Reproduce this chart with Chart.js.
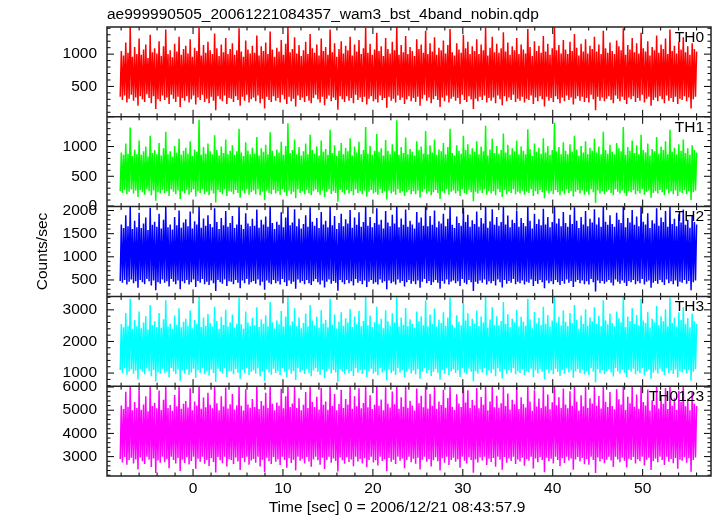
<!doctype html>
<html lang="en">
<head>
<meta charset="utf-8" />
<title>WAM light curve</title>
<style>
  body { margin: 0; background: #fff; }
  #wrap { width: 717px; height: 516px; }
</style>
</head>
<body>
<div id="wrap"><canvas id="lc" width="717" height="516"></canvas></div>
<script src="https://cdn.jsdelivr.net/npm/chart.js@4.4.1/dist/chart.umd.min.js"></script>
<script>
const plotTitle = "ae999990505_20061221084357_wam3_bst_4band_nobin.qdp";
const xTitle = "Time [sec] 0 = 2006/12/21 08:43:57.9";
const yTitle = "Counts/sec";
const bandNames = ["TH0", "TH1", "TH2", "TH3", "TH0123"];

// first and last bin time (s)
const tStart = -8.1;
const tEnd = 56.0;
const xTicks = [0, 10, 20, 30, 40, 50];

// count rates (alternating local lows / highs of the dense trace)
const th0 = [
  340,1050,290,980,360,1180,250,1020,310,1420,370,960,280,1110,330,1000,200,1240,350,990,
  300,1070,260,1150,380,940,320,1300,240,1030,350,1090,150,1010,300,1200,270,970,360,1120,
  290,1380,330,1000,230,1060,370,950,310,1160,260,1040,340,1270,180,990,320,1080,280,1130,
  350,1010,250,1230,300,960,360,1100,220,1050,330,1410,290,980,370,1140,260,1020,310,1190,
  240,1060,340,1000,280,1320,130,1090,350,970,300,1150,270,1030,360,1250,230,1000,320,1080,
  310,1170,260,990,350,1060,290,1400,200,1040,340,960,280,1210,370,1070,250,1010,300,1130,
  330,1020,270,1290,360,980,240,1120,310,1050,160,1180,340,1000,290,1350,260,1070,350,960,
  280,1100,320,1040,250,1220,370,990,300,1160,230,1420,340,1030,270,1080,310,1260,190,1010,
  360,1140,290,970,330,1060,260,1190,350,1000,280,1310,240,1090,320,1020,370,1150,300,980,
  250,1240,340,1050,210,1110,310,990,360,1380,270,1030,330,1170,290,960,140,1080,350,1200,
  300,1010,260,1130,350,1060,280,1270,320,980,240,1150,370,1040,290,1220,330,1000,260,1090,
  340,1410,220,1020,310,1160,350,990,270,1070,300,1330,250,1050,360,1120,290,970,320,1250,
  170,1080,340,1010,280,1190,310,1060,250,1420,360,990,290,1140,330,1030,230,1280,300,1000,
  350,1110,270,1050,320,970,260,1230,340,1080,200,1150,310,1020,370,1360,280,1000,330,1170,
  240,1040,300,1260,350,990,290,1100,180,1060,330,1210,270,1010,360,1140,250,1390,310,1030,
  340,980,280,1170,320,1070,230,1020,370,1300,290,1090,260,1190,350,1000,300,1120,150,1050,
  310,1230,270,1000,340,1150,290,1060,360,1410,250,980,320,1100,280,1270,330,1030,240,1160,
  360,1020,300,1090,210,1340,350,1040,270,1180,330,990,290,1120,370,1060,260,1250,310,1000,
  280,1150,340,1070,250,1010,310,1390,290,1110,360,970,230,1200,330,1050,270,1130,350,1020,
  300,1280,190,1040,340,1160,280,990,320,1090,260,1420,350,1060,300,1140,240,1010,330,1220,
  270,1070,360,1000,290,1190,330,1050,220,1310,310,1100,350,980,280,1160,340,1040,260,1230,
  320,1010,250,1130,370,1080,300,1270,130,1040,340,1150,280,1000,330,1360,270,1090,310,1020,
  350,1180,290,1050,240,1000,360,1210,310,1120,270,1060,340,1400,290,990,230,1140,330,1070,
  300,1250,350,1030,260,1170,320,1010,280,1330,370,1090,250,1040,310,1200,340,980,200,1110,
  290,1060,330,1290,270,1020,350,1150,300,1080,240,1240,360,1000,280,1380,320,1050,260,1130,
  340,1010,230,1190,310,1070,290,1260,350,1030,270,1120,330,990,160,1170,300,1080,340,1040
];
const th1 = [
  250,900,220,860,270,1050,200,880,240,1320,280,840,210,950,260,870,150,1100,270,860,
  230,920,190,1000,280,830,250,1180,180,890,260,940,90,870,230,1060,210,850,270,970,
  220,1250,250,870,170,920,280,830,240,1010,200,900,260,1130,120,860,250,930,210,980,
  270,880,190,1090,230,840,280,950,160,910,250,1450,220,860,280,990,200,880,240,1050,
  180,920,260,870,210,1190,60,940,270,850,230,1000,200,890,280,1120,170,870,250,930,
  240,1020,200,860,270,920,220,1300,140,900,260,840,210,1070,280,930,190,870,230,980,
  260,880,200,1160,280,850,180,970,240,910,100,1030,260,870,220,1240,200,930,270,840,
  210,950,250,900,190,1080,280,860,230,1010,170,1390,260,890,200,940,240,1120,130,870,
  280,990,220,850,250,920,200,1050,270,870,210,1200,180,940,250,880,280,1000,230,850,
  190,1100,260,910,150,960,240,860,280,1280,200,890,250,1020,220,840,70,930,270,1060,
  230,870,200,980,270,920,210,1140,250,850,180,1000,280,900,220,1080,250,870,200,940,
  260,1330,160,880,240,1010,270,860,210,930,230,1210,190,910,280,970,220,850,250,1110,
  110,930,260,870,210,1040,240,920,190,1440,280,860,220,990,250,890,170,1150,230,870,
  270,960,200,910,250,850,200,1090,260,940,140,1000,240,880,280,1260,210,870,250,1020,
  180,900,230,1120,270,860,220,950,120,920,250,1060,210,870,280,990,190,1300,240,890,
  260,850,210,1020,250,930,170,880,280,1180,220,940,200,1040,270,870,230,970,80,910,
  240,1090,210,870,260,1000,220,920,280,1350,190,850,250,950,210,1130,250,890,180,1010,
  280,880,230,940,150,1220,270,900,200,1030,250,860,220,970,280,920,200,1100,240,870,
  210,1000,260,930,190,870,240,1290,220,960,280,840,170,1050,250,910,200,980,270,880,
  230,1140,130,900,260,1010,210,860,250,940,200,1400,270,920,230,990,180,870,250,1070,
  200,930,280,870,220,1040,250,910,160,1180,240,950,270,850,210,1010,260,900,190,1090,
  240,870,190,980,280,930,230,1130,50,900,260,1000,210,870,250,1250,200,940,240,880,
  270,1030,220,910,180,870,280,1060,240,970,210,920,260,1330,220,860,170,990,250,930,
  230,1100,270,890,200,1020,250,870,210,1200,280,940,190,900,240,1050,260,850,140,960,
  220,920,250,1160,210,880,270,1000,230,940,180,1090,280,870,210,1280,250,910,200,980,
  260,870,170,1040,240,930,220,1120,270,890,200,970,250,860,100,1020,230,940,260,900
];
const th2 = [
  480,1700,440,1620,500,1900,400,1660,460,2085,510,1600,430,1780,470,1640,330,1950,500,1620,
  450,1720,410,1850,520,1580,470,2060,380,1690,490,1760,280,1650,450,1930,420,1610,510,1800,
  440,2085,470,1640,360,1700,520,1590,460,1860,410,1680,490,2000,300,1630,470,1740,430,1810,
  500,1660,400,1980,450,1610,510,1770,350,1700,480,2085,440,1630,520,1830,410,1670,460,1900,
  390,1710,490,1640,430,2050,260,1750,500,1600,450,1840,420,1680,510,1990,370,1650,470,1730,
  460,1880,410,1620,500,1700,440,2085,320,1690,490,1600,430,1940,520,1720,400,1660,450,1820,
  480,1670,420,2020,510,1630,380,1800,460,1700,290,1870,490,1650,440,2085,410,1730,500,1600,
  430,1760,470,1690,400,1960,520,1640,450,1850,370,2085,490,1680,420,1740,460,2030,310,1660,
  510,1820,440,1610,480,1710,410,1900,500,1650,430,2070,390,1760,470,1670,520,1840,450,1620,
  400,1970,490,1700,340,1780,460,1640,510,2085,420,1680,480,1880,440,1600,270,1730,500,1930,
  450,1660,410,1810,500,1720,430,2010,470,1630,380,1850,520,1690,440,1960,480,1650,410,1750,
  490,2085,350,1670,460,1860,500,1640,420,1730,450,2050,400,1700,510,1800,440,1610,470,1990,
  300,1740,490,1660,430,1910,460,1720,400,2085,510,1640,440,1830,480,1690,360,2020,450,1650,
  500,1780,420,1700,470,1610,410,1970,490,1740,330,1850,460,1670,520,2085,430,1660,480,1880,
  390,1690,450,2000,500,1640,440,1770,310,1720,480,1930,420,1660,510,1820,400,2085,460,1690,
  490,1620,430,1870,470,1730,370,1670,520,2060,440,1750,410,1910,500,1650,450,1790,260,1710,
  460,1980,420,1650,490,1840,440,1720,510,2085,400,1630,470,1770,430,2030,480,1690,380,1860,
  510,1670,450,1750,340,2085,500,1700,420,1890,480,1640,440,1800,520,1730,410,2000,460,1650,
  430,1840,490,1730,400,1660,460,2085,440,1780,510,1610,370,1930,480,1710,420,1810,500,1680,
  450,2040,320,1700,490,1860,430,1640,470,1750,410,2085,500,1720,450,1830,390,1660,480,1970,
  420,1730,510,1650,440,1910,480,1710,350,2070,460,1780,500,1620,430,1860,490,1700,410,1990,
  470,1660,400,1820,520,1740,450,2030,250,1700,490,1850,430,1650,480,2085,420,1760,460,1690,
  500,1900,440,1710,380,1650,510,1950,460,1800,420,1730,490,2085,440,1640,370,1840,480,1740,
  450,2010,500,1690,410,1870,470,1660,430,2085,520,1760,400,1700,460,1940,490,1620,330,1790,
  440,1720,480,2050,420,1670,500,1850,450,1750,390,1990,510,1650,430,2085,470,1710,410,1820,
  490,1660,360,1920,460,1740,440,2020,500,1690,420,1800,480,1630,280,1880,450,1750,490,1700
];
const th3 = [
  1100,2550,1000,2450,1150,2900,950,2500,1050,3350,1120,2400,980,2680,1080,2480,800,2950,1130,2420,
  1040,2600,960,2800,1150,2380,1070,3150,900,2520,1100,2640,740,2460,1030,2900,980,2430,1140,2700,
  1010,3300,1060,2470,860,2560,1150,2400,1050,2820,970,2530,1110,3050,760,2450,1080,2620,990,2720,
  1130,2490,950,2980,1020,2420,1140,2680,850,2560,1090,3425,1000,2460,1150,2760,960,2500,1060,2870,
  920,2580,1110,2470,1000,3100,720,2650,1140,2400,1040,2780,980,2520,1150,3000,880,2470,1070,2610,
  1050,2850,960,2440,1130,2560,1010,3380,820,2540,1110,2400,1000,2950,1150,2600,940,2490,1040,2740,
  1090,2510,990,3080,1150,2460,900,2700,1060,2560,760,2830,1120,2480,1020,3250,950,2610,1140,2410,
  1000,2660,1070,2540,940,2960,1150,2470,1040,2790,870,3400,1110,2510,980,2630,1060,3050,780,2480,
  1150,2760,1030,2420,1090,2580,970,2880,1140,2480,1010,3150,900,2660,1080,2510,1150,2780,1040,2440,
  950,2990,1120,2570,840,2680,1060,2450,1140,3350,990,2530,1100,2850,1020,2410,730,2620,1130,2920,
  1040,2500,960,2730,1130,2600,1000,3030,1070,2460,910,2790,1150,2540,1010,2970,1090,2480,970,2650,
  1110,3425,880,2510,1050,2820,1140,2460,990,2610,1040,3100,930,2560,1150,2720,1020,2420,1080,2990,
  770,2640,1110,2500,1000,2890,1060,2600,940,3400,1150,2470,1020,2760,1090,2530,860,3060,1040,2490,
  1140,2700,990,2560,1080,2430,960,2950,1120,2640,820,2800,1060,2510,1150,3300,1000,2480,1090,2850,
  910,2550,1040,3040,1130,2470,1010,2690,790,2580,1100,2920,980,2500,1150,2760,930,3380,1050,2530,
  1120,2440,1000,2830,1080,2620,880,2510,1150,3200,1020,2660,960,2890,1140,2490,1040,2720,740,2560,
  1060,2980,990,2490,1130,2790,1020,2600,1150,3425,940,2430,1080,2690,1000,3080,1110,2520,900,2800,
  1150,2510,1040,2650,830,3250,1130,2560,980,2860,1090,2450,1010,2720,1150,2610,960,3000,1060,2470,
  1000,2780,1120,2630,930,2500,1070,3350,1020,2690,1140,2420,870,2930,1090,2570,990,2750,1130,2520,
  1040,3100,800,2560,1120,2840,1000,2470,1080,2660,960,3425,1140,2600,1040,2780,910,2510,1100,2980,
  980,2620,1150,2490,1020,2900,1090,2580,850,3150,1060,2680,1130,2410,1000,2820,1110,2560,960,3020,
  1070,2500,940,2760,1150,2640,1040,3080,700,2560,1120,2810,1000,2490,1090,3300,970,2670,1060,2540,
  1130,2880,1020,2580,890,2480,1150,2950,1060,2730,980,2610,1110,3425,1010,2460,880,2790,1100,2640,
  1040,3050,1140,2550,960,2840,1070,2510,1000,3350,1150,2660,920,2580,1060,2940,1120,2430,820,2720,
  1020,2610,1090,3120,990,2520,1140,2800,1050,2640,940,3020,1150,2480,1000,3380,1080,2580,970,2750,
  1110,2470,860,2920,1060,2680,1020,3080,1130,2560,990,2740,1100,2450,760,2880,1040,2640,1120,2560
];
const th0123 = [
  2900,5200,2750,5050,2980,5800,2650,5150,2850,6035,2950,5000,2700,5350,2880,5100,2450,5900,2960,5020,
  2800,5250,2680,5600,3000,4950,2870,6035,2550,5180,2920,5320,2300,5080,2830,5850,2740,5010,2990,5450,
  2760,6035,2890,5090,2500,5220,3000,4980,2860,5650,2700,5170,2940,6000,2380,5060,2880,5280,2730,5400,
  2970,5120,2660,5950,2810,5000,2990,5380,2480,5200,2910,6035,2780,5060,3000,5550,2690,5130,2850,5750,
  2600,5230,2930,5080,2770,6035,2320,5300,2980,5000,2840,5600,2720,5160,3000,5980,2570,5070,2890,5260,
  2850,5700,2680,5030,2960,5210,2790,6035,2420,5190,2940,4990,2760,5900,3000,5250,2650,5110,2830,5480,
  2900,5140,2740,6035,2990,5050,2580,5400,2870,5200,2340,5750,2950,5090,2800,6035,2680,5280,2980,5000,
  2780,5330,2890,5190,2640,5920,3000,5080,2850,5600,2520,6035,2930,5140,2730,5290,2870,6035,2400,5100,
  3000,5520,2820,5000,2910,5230,2700,5780,2980,5090,2790,6035,2560,5350,2880,5140,3000,5580,2840,5030,
  2650,5970,2950,5240,2470,5380,2860,5020,2990,6035,2740,5180,2920,5700,2810,5000,2360,5270,2960,5880,
  2840,5100,2690,5480,2970,5250,2770,6035,2880,5060,2590,5600,3000,5170,2790,5950,2900,5080,2700,5310,
  2930,6035,2540,5130,2850,5640,2990,5050,2750,5240,2840,6035,2620,5190,3000,5460,2810,5000,2890,5990,
  2370,5280,2940,5120,2780,5810,2870,5260,2680,6035,3000,5060,2820,5560,2920,5150,2500,6035,2850,5090,
  2990,5410,2760,5200,2910,4990,2690,5940,2950,5300,2450,5620,2870,5130,3000,6035,2780,5070,2900,5700,
  2580,5190,2840,6035,2970,5060,2800,5380,2400,5220,2930,5880,2740,5110,3000,5530,2640,6035,2860,5150,
  2950,5010,2780,5690,2890,5290,2520,5140,3000,6035,2820,5330,2700,5860,2970,5090,2850,5440,2310,5210,
  2880,5960,2750,5080,2960,5570,2830,5240,3000,6035,2640,5000,2910,5370,2770,6035,2940,5130,2560,5620,
  3000,5110,2870,5300,2430,6035,2980,5180,2740,5720,2920,5030,2810,5450,3000,5260,2680,5990,2880,5050,
  2790,5560,2950,5270,2610,5120,2900,6035,2820,5380,2990,4980,2490,5860,2920,5160,2760,5500,2970,5090,
  2860,6035,2330,5170,2950,5680,2800,5040,2910,5340,2700,6035,3000,5210,2860,5560,2590,5100,2930,5940,
  2730,5250,3000,5080,2830,5820,2920,5190,2440,6035,2880,5360,2980,4990,2790,5640,2940,5170,2670,6000,
  2900,5100,2650,5520,3000,5290,2850,6035,2300,5190,2960,5610,2790,5070,2900,6035,2720,5360,2870,5140,
  2990,5780,2830,5180,2550,5040,3000,5900,2880,5470,2760,5250,2950,6035,2820,5010,2530,5580,2910,5300,
  2850,6035,2980,5150,2700,5680,2890,5060,2800,6035,3000,5350,2620,5200,2870,5890,2950,4990,2420,5430,
  2810,5220,2920,6035,2760,5070,2990,5610,2860,5280,2640,5960,3000,5050,2780,6035,2900,5190,2710,5520,
  2940,5010,2480,5840,2870,5360,2820,6035,2970,5170,2740,5490,2930,5000,2350,5770,2850,5280,2960,5180
];

const yRanges = [[30, 1420], [-10, 1500], [145, 2085], [585, 3425], [2165, 6035]];
const yTicks = [[500, 1000], [0, 500, 1000], [500, 1000, 1500, 2000], [1000, 2000, 3000], [3000, 4000, 5000, 6000]];
const yMinor = [100, 100, 100, 200, 200];
const colors = ["#ff0000", "#00ff00", "#0000ff", "#00ffff", "#ff00ff"];

const series = [th0, th1, th2, th3, th0123];
const font = { family: '"Liberation Sans", Arial, Helvetica, sans-serif', size: 15.5 };
const fontCss = '15.5px "Liberation Sans", Arial, Helvetica, sans-serif';

// qdp-style frame: inward ticks on all sides, panel labels, titles
const qdpFrame = {
  id: "qdpFrame",
  beforeDatasetDraw(chart, args) {
    const s = chart.scales["y" + args.index];
    const a = chart.chartArea;
    chart.ctx.save();
    chart.ctx.beginPath();
    chart.ctx.rect(a.left, s.top, a.right - a.left, s.bottom - s.top);
    chart.ctx.clip();
  },
  afterDatasetDraw(chart) {
    chart.ctx.restore();
  },
  afterDraw(chart) {
    const ctx = chart.ctx;
    const a = chart.chartArea;
    const xs = chart.scales.x;
    const seg = (x1, y1, x2, y2) => { ctx.moveTo(x1, y1); ctx.lineTo(x2, y2); };
    ctx.save();
    ctx.strokeStyle = "#000";
    ctx.fillStyle = "#000";
    ctx.font = fontCss;
    ctx.lineWidth = 1;
    ctx.beginPath();
    for (let i = 0; i < series.length; i++) {
      const s = chart.scales["y" + i];
      for (let t = -8; t <= 56; t += 2) {
        const px = xs.getPixelForValue(t);
        const len = t % 10 === 0 ? 7 : 3.5;
        seg(px, s.top, px, s.top + len);
        seg(px, s.bottom, px, s.bottom - len);
      }
      const step = yMinor[i];
      for (let v = Math.ceil(yRanges[i][0] / step) * step; v <= yRanges[i][1]; v += step) {
        const py = s.getPixelForValue(v);
        const len = v % 500 === 0 ? 7 : 3.5;
        seg(a.left, py, a.left + len, py);
        seg(a.right, py, a.right - len, py);
      }
    }
    ctx.stroke();

    ctx.lineWidth = 1.5;
    ctx.strokeStyle = "#222";
    ctx.strokeRect(a.left, a.top, a.right - a.left, a.bottom - a.top);
    ctx.beginPath();
    for (let i = 1; i < series.length; i++) {
      const y = chart.scales["y" + i].top;
      seg(a.left, y, a.right, y);
    }
    ctx.stroke();

    ctx.textBaseline = "middle";
    ctx.textAlign = "right";
    for (let i = 0; i < series.length; i++) {
      ctx.fillText(bandNames[i], a.right - 7, chart.scales["y" + i].top + 10.5);
    }
    ctx.textAlign = "left";
    ctx.fillText(plotTitle, a.left, 15);
    ctx.textAlign = "center";
    ctx.fillText(xTitle, (a.left + a.right) / 2 - 12, 508);
    ctx.restore();
  }
};

const scales = {
  x: {
    type: "linear",
    position: "bottom",
    min: -9.57,
    max: 57.6,
    grid: { display: false, drawTicks: false },
    border: { display: false },
    ticks: { padding: 3, color: "#000", font, maxRotation: 0, autoSkip: false, callback: (v) => String(v) },
    afterBuildTicks: (s) => { s.ticks = xTicks.map((v) => ({ value: v })); },
    afterFit: (s) => { s.height = 40; },
  },
};
series.forEach((vals, i) => {
  scales["y" + i] = {
    type: "linear",
    position: "left",
    stack: "panels",
    stackWeight: 1,
    weight: series.length - i,
    min: yRanges[i][0],
    max: yRanges[i][1],
    grid: { display: false, drawTicks: false },
    border: { display: false },
    ticks: { padding: 10, color: "#000", font, autoSkip: false, callback: (v) => String(v) },
    afterBuildTicks: (s) => { s.ticks = yTicks[i].map((v) => ({ value: v })); },
    afterFit: (s) => { s.width = 78; },
    title: i === 2
      ? { display: true, text: yTitle, color: "#000", font, padding: { top: 4, bottom: 0 } }
      : { display: false },
  };
});

new Chart(document.getElementById("lc"), {
  type: "line",
  data: {
    datasets: series.map((vals, i) => ({
      label: bandNames[i],
      data: vals.map((v, k) => ({ x: tStart + (k * (tEnd - tStart)) / (vals.length - 1), y: v })),
      xAxisID: "x",
      yAxisID: "y" + i,
      borderColor: colors[i],
      borderWidth: 1.5,
      pointRadius: 0,
      tension: 0,
      fill: false,
    })),
  },
  options: {
    responsive: false,
    animation: false,
    devicePixelRatio: 1,
    events: [],
    layout: { padding: { left: 29, top: 27, right: 6, bottom: 0 } },
    plugins: { legend: { display: false }, tooltip: { enabled: false } },
    scales,
  },
  plugins: [qdpFrame],
});
</script>
</body>
</html>
